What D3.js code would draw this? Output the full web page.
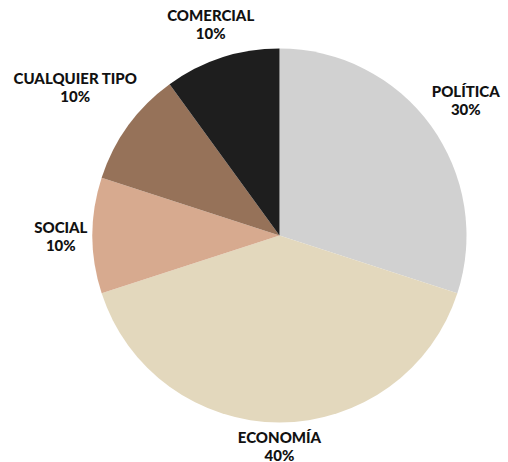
<!DOCTYPE html>
<html>
<head>
<meta charset="utf-8">
<script src="https://cdn.jsdelivr.net/npm/d3@7"></script>
<style>
  html, body { margin: 0; padding: 0; background: #ffffff; }
  text { font-family: Lato, "Open Sans", sans-serif; font-weight: 900; fill: #111111; }
</style>
</head>
<body>
<div id="chart"></div>
<script>
// pie data, clockwise from 12 o'clock
let categories = ["POLÍTICA", "ECONOMÍA", "SOCIAL", "CUALQUIER TIPO", "COMERCIAL"];
let shares = [30, 40, 10, 10, 10];
let sliceColors = ["#d1d1d1", "#e3d8bd", "#d7aa8f", "#967259", "#1e1e1e"];

let width = 508,
  height = 462;
let cx = 279.5, cy = 235.5, radius = 187;

let svg = d3.select("#chart").append("svg")
  .attr("width", width)
  .attr("height", height);

let g = svg.append("g").attr("transform", "translate(" + cx + "," + cy + ")");

let pie = d3.pie().sort(null).value(d => d.value);
let arc = d3.arc().innerRadius(0).outerRadius(radius);

let data = categories.map((c, i) => ({ name: c, value: shares[i], color: sliceColors[i] }));
let arcs = pie(data);

g.selectAll("path.slice")
  .data(arcs)
  .enter().append("path")
  .attr("class", "slice")
  .attr("d", arc)
  .attr("fill", d => d.data.color);

// labels sit just outside the pie, pushed out by their own box size
let labelGap = 192;
let labels = g.selectAll("g.label")
  .data(arcs)
  .enter().append("g")
  .attr("class", "label");

labels.each(function(d) {
  let lg = d3.select(this);
  let t = lg.append("text").attr("text-anchor", "middle").style("font-size", "15px");
  t.append("tspan").attr("x", 0).attr("y", -4).text(d.data.name);
  t.append("tspan").attr("x", 0).attr("y", 14).text(d.data.value + "%");
  let box = t.node().getBBox();
  let a = (d.startAngle + d.endAngle) / 2;
  let s = Math.sin(a), c = -Math.cos(a);
  let dist = labelGap + box.width / 2 * Math.abs(s) + box.height / 2 * Math.abs(c);
  let midY = box.y + box.height / 2;
  lg.attr("transform", "translate(" + (dist * s) + "," + (dist * c - midY) + ")");
});
</script>
</body>
</html>
